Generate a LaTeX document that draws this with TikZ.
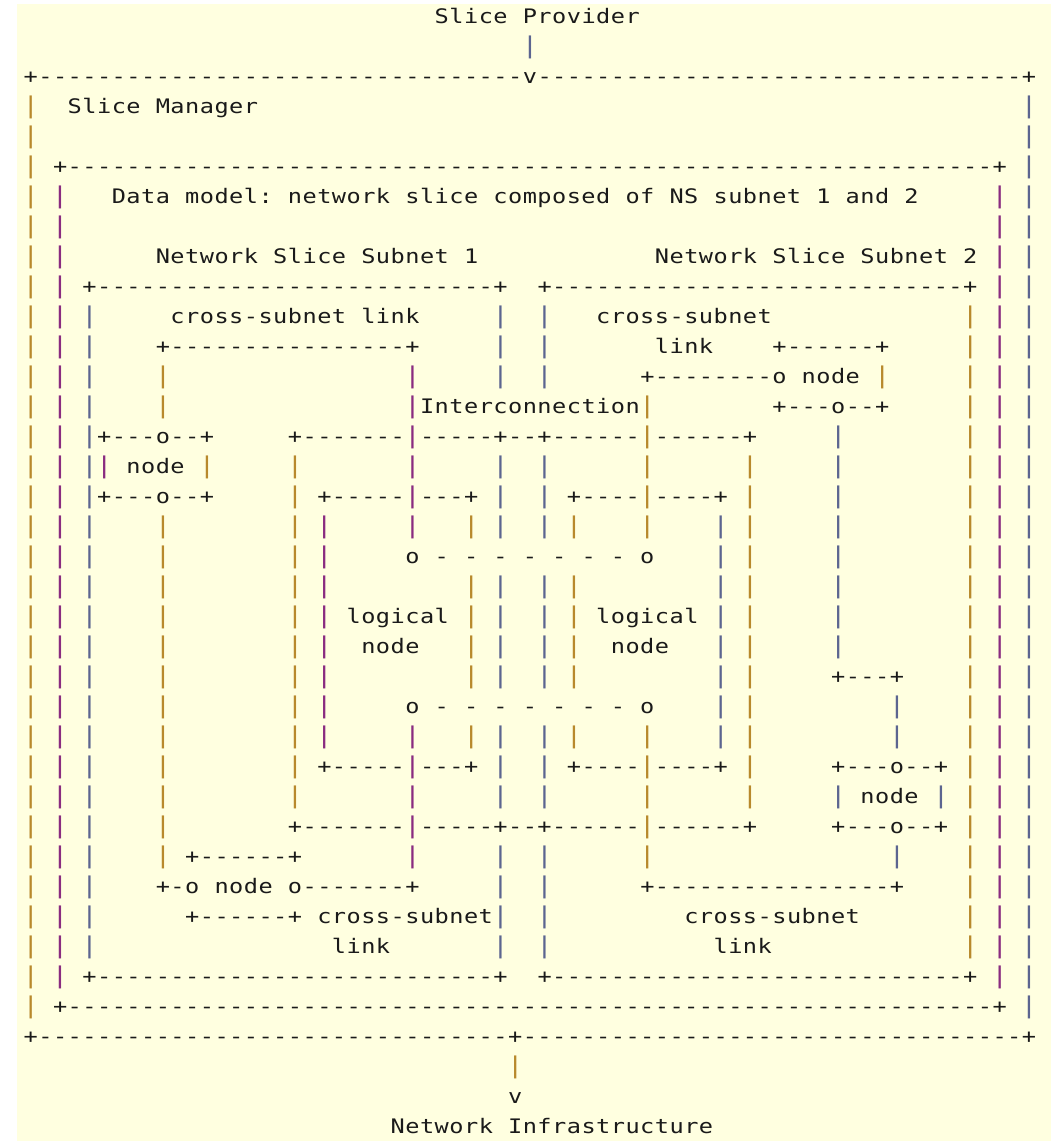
\documentclass[tikz,border=0pt]{standalone}
\usepackage{fontspec}
\setmonofont[FakeStretch=1.18]{DejaVu Sans Mono}
\definecolor{bgyel}{HTML}{FFFFE0}
\definecolor{txtcol}{HTML}{1A1A1A}
\definecolor{barG}{HTML}{B8892C}
\definecolor{barP}{HTML}{8A2C80}
\definecolor{barS}{HTML}{5C6590}
\newlength\cw \setlength\cw{14.68pt}
\newcount\colno
\newcount\ndash
\def\setbc#1#2{\expandafter\def\csname bc#1\endcsname{#2}}
\setbc{0}{barG}\setbc{2}{barP}\setbc{4}{barS}\setbc{5}{barP}\setbc{9}{barG}
\setbc{12}{barG}\setbc{18}{barG}\setbc{20}{barP}\setbc{26}{barP}\setbc{30}{barG}
\setbc{32}{barS}\setbc{33}{barG}\setbc{34}{barS}\setbc{35}{barS}\setbc{37}{barG}
\setbc{42}{barG}\setbc{47}{barS}\setbc{49}{barG}\setbc{55}{barS}\setbc{58}{barG}
\setbc{59}{barS}\setbc{62}{barS}\setbc{64}{barG}\setbc{66}{barP}\setbc{68}{barS}
\def\barcolor{\ifcsname bc\the\colno\endcsname\edef\tmpc{\csname bc\the\colno\endcsname}\else\def\tmpc{barS}\fi\color{\tmpc}}
\newcommand\txtfont{\ttfamily\fontsize{20}{24}\selectfont}
\newcommand\barfont{\ttfamily\fontsize{23}{26}\selectfont}
\def\putch#1{\if.#1\hbox to\cw{\hfil}\else\if|#1\hbox to\cw{\hss{\barfont\barcolor|}\hss}\else\hbox to\cw{\hss#1\hss}\fi\fi}
\def\proc#1{\ifx#1\relax\else\putch{#1}\advance\colno by 1 \expandafter\proc\fi}
\def\dashloop{\ifnum\ndash>0 \hbox to\cw{\hss-\hss}\advance\ndash by -1 \expandafter\dashloop\fi}
\tikzset{
  seg/.style={anchor=base west,inner sep=0pt,outer sep=0pt,font=\txtfont,text=txtcol},
  barnode/.style={anchor=base,inner sep=0pt,outer sep=0pt,font=\barfont}
}
\newcommand\hs[3]{\node[seg] (s-#1-#2) at ({23.46+14.68*#2},{-(23.6+30*#1)}) {\colno=#2\relax\proc#3\relax};}
\newcommand\hd[3]{\node[seg] (d-#1-#2) at ({23.46+14.68*#2},{-(23.6+30*#1)}) {\ndash=\numexpr#3-#2+1\relax\dashloop};}
\newcommand\vb[3]{\foreach \rr in {#2,...,#3}{\node[barnode] (b-\rr-#1) at ({30.8+14.68*#1},{-(23.6+30*\rr)}) {\colno=#1\relax\barcolor|};}}
\begin{document}
\begin{tikzpicture}[x=1pt,y=1pt]
\useasboundingbox (0,0) rectangle (1051,-1141);
\fill[white] (0,0) rectangle (1051,-1141);
\fill[bgyel] (17,-4) rectangle (1051,-1141);
% top and outer box (Slice Manager)
\hs{0}{28}{Slice.Provider}
\vb{34}{1}{1}
\hs{2}{0}{+}\hd{2}{1}{33}\hs{2}{34}{v}\hd{2}{35}{67}\hs{2}{68}{+}
\vb{0}{3}{33}\vb{68}{3}{33}
\hs{3}{3}{Slice.Manager}
% data model box
\hs{5}{2}{+}\hd{5}{3}{65}\hs{5}{66}{+}
\vb{2}{6}{32}\vb{66}{6}{32}
\hs{6}{6}{Data.model:.network.slice.composed.of.NS.subnet.1.and.2}
\hs{8}{9}{Network.Slice.Subnet.1}
\hs{8}{43}{Network.Slice.Subnet.2}
% subnet boxes
\hs{9}{4}{+}\hd{9}{5}{31}\hs{9}{32}{+}
\hs{9}{35}{+}\hd{9}{36}{63}\hs{9}{64}{+}
\hs{32}{4}{+}\hd{32}{5}{31}\hs{32}{32}{+}
\hs{32}{35}{+}\hd{32}{36}{63}\hs{32}{64}{+}
\vb{4}{10}{31}\vb{64}{10}{31}
\vb{32}{10}{12}\vb{32}{15}{17}\vb{32}{19}{22}\vb{32}{24}{26}\vb{32}{28}{31}
\vb{35}{10}{12}\vb{35}{15}{17}\vb{35}{19}{22}\vb{35}{24}{26}\vb{35}{28}{31}
\hs{33}{2}{+}\hd{33}{3}{65}\hs{33}{66}{+}
\hs{34}{0}{+}\hd{34}{1}{32}\hs{34}{33}{+}\hd{34}{34}{67}\hs{34}{68}{+}
\vb{33}{35}{35}
\hs{36}{33}{v}
\hs{37}{25}{Network.Infrastructure}
% subnet 1 content
\hs{10}{10}{cross-subnet.link}
\hs{11}{9}{+----------------+}
\vb{9}{12}{13}\vb{26}{12}{13}
\hs{13}{27}{Interconnection}
\vb{42}{13}{13}
\hs{14}{5}{+---o--+}
\hs{15}{5}{|.node.|}
\hs{16}{5}{+---o--+}
\vb{9}{17}{28}
\hs{14}{18}{+-------|-----+--+------|------+}
\hs{27}{18}{+-------|-----+--+------|------+}
\vb{18}{15}{26}\vb{49}{15}{26}
\vb{26}{15}{15}\vb{26}{17}{17}\vb{26}{24}{24}\vb{26}{26}{26}\vb{26}{28}{28}
\vb{42}{15}{15}\vb{42}{17}{17}\vb{42}{24}{24}\vb{42}{26}{26}\vb{42}{28}{28}
\hs{16}{20}{+-----|---+}\hs{25}{20}{+-----|---+}
\hs{16}{37}{+----|----+}\hs{25}{37}{+----|----+}
\vb{20}{17}{24}\vb{47}{17}{24}
\vb{30}{17}{17}\vb{30}{19}{22}\vb{30}{24}{24}
\vb{37}{17}{17}\vb{37}{19}{22}\vb{37}{24}{24}
\hs{18}{26}{o.-.-.-.-.-.-.-.o}
\hs{23}{26}{o.-.-.-.-.-.-.-.o}
\hs{20}{22}{logical}\hs{21}{23}{node}
\hs{20}{39}{logical}\hs{21}{40}{node}
\hs{28}{11}{+------+}
\hs{29}{9}{+-o.node.o-------+}
\hs{30}{11}{+------+}
\hs{30}{20}{cross-subnet}
\hs{31}{21}{link}
% subnet 2 content
\hs{10}{39}{cross-subnet}
\hs{11}{43}{link}\hs{11}{51}{+------+}
\hs{12}{42}{+--------o.node.|}
\hs{13}{51}{+---o--+}
\vb{55}{14}{21}
\hs{22}{55}{+---+}
\vb{59}{23}{24}
\hs{25}{55}{+---o--+}
\hs{26}{55}{|.node.|}
\hs{27}{55}{+---o--+}
\vb{59}{28}{28}
\hs{29}{42}{+----------------+}
\hs{30}{45}{cross-subnet}
\hs{31}{47}{link}
\end{tikzpicture}
\end{document}
